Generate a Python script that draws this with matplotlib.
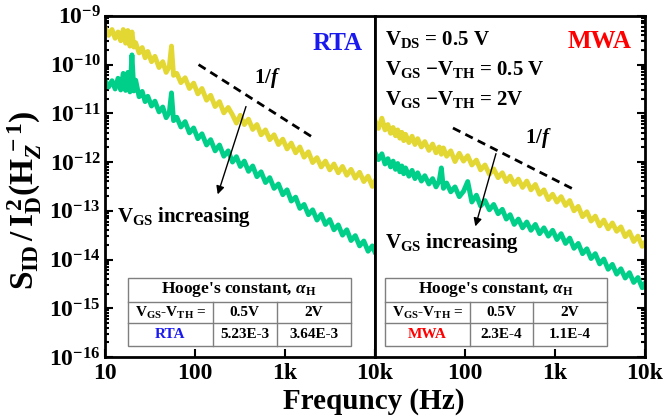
import numpy as np
import matplotlib
matplotlib.use('Agg')
import matplotlib.pyplot as plt
from matplotlib.ticker import FixedLocator, FuncFormatter, LogLocator, NullFormatter
from matplotlib.patches import Rectangle

plt.rcParams['font.family'] = ['Liberation Serif', 'DejaVu Serif']
plt.rcParams['font.weight'] = 'bold'
plt.rcParams['mathtext.fontset'] = 'custom'
plt.rcParams['mathtext.rm'] = 'Liberation Serif:bold'
plt.rcParams['mathtext.bf'] = 'Liberation Serif:bold'
plt.rcParams['mathtext.it'] = 'Liberation Serif:italic:bold'

# frequency grid (Hz), same for both panels
freq = [10, 11, 12, 13, 14, 15, 16, 17, 18, 19, 20, 21, 22, 24, 26, 28, 30, 33, 36, 40,
        44, 48, 52, 55, 58, 63, 70, 78, 87, 97, 108, 120, 135, 150, 168, 188, 210, 235,
        262, 290, 320, 355, 395, 440, 490, 545, 610, 680, 760, 850, 950, 1060, 1180,
        1320, 1470, 1640, 1830, 2040, 2280, 2540, 2830, 3160, 3520, 3930, 4380, 4890,
        5450, 6080, 6780, 7560, 8430, 9400, 10000]

# log10 of S_ID/I_D^2 (noisy traces)
rta_05 = [-9.23, -9.40, -9.28, -9.46, -9.33, -9.51, -9.28, -9.56, -9.30, -9.62, -9.33,
          -9.64, -9.55, -9.76, -9.65, -9.86, -9.73, -9.94, -9.83, -10.06, -9.94, -10.16,
          -10.04, -9.62, -10.22, -10.18, -10.37, -10.27, -10.49, -10.38, -10.60, -10.49,
          -10.73, -10.63, -10.86, -10.76, -10.99, -10.88, -11.03, -11.20, -11.04, -11.23,
          -11.12, -11.33, -11.23, -11.44, -11.34, -11.54, -11.44, -11.64, -11.53, -11.73,
          -11.61, -11.81, -11.69, -11.90, -11.79, -12.01, -11.91, -12.10, -11.98, -12.16,
          -12.04, -12.22, -12.09, -12.27, -12.15, -12.33, -12.21, -12.40, -12.29, -12.50,
          -12.40]
rta_2 = [-10.32, -10.46, -10.33, -10.50, -10.28, -10.52, -10.18, -10.53, -10.16, -10.56,
         -9.80, -10.54, -10.32, -10.66, -10.55, -10.76, -10.65, -10.85, -10.75, -10.97,
         -10.87, -11.09, -10.98, -10.58, -11.15, -11.08, -11.28, -11.17, -11.40, -11.30,
         -11.52, -11.42, -11.65, -11.54, -11.77, -11.65, -11.88, -11.77, -12.00, -11.89,
         -12.09, -11.98, -12.19, -12.08, -12.30, -12.20, -12.42, -12.32, -12.54, -12.45,
         -12.67, -12.57, -12.80, -12.72, -12.95, -12.87, -13.08, -12.98, -13.19, -13.07,
         -13.28, -13.18, -13.39, -13.29, -13.50, -13.39, -13.61, -13.51, -13.72, -13.62,
         -13.83, -13.72, -13.84]
mwa_05 = [-11.14, -11.31, -11.10, -11.34, -11.23, -11.41, -11.29, -11.46, -11.34, -11.51,
          -11.39, -11.56, -11.43, -11.60, -11.47, -11.64, -11.52, -11.69, -11.58, -11.76,
          -11.63, -11.81, -11.69, -11.84, -11.71, -11.88, -11.77, -11.99, -11.82, -11.98,
          -11.87, -12.06, -11.96, -12.16, -12.06, -12.25, -12.14, -12.32, -12.22, -12.40,
          -12.29, -12.46, -12.35, -12.52, -12.39, -12.57, -12.46, -12.66, -12.57, -12.77,
          -12.66, -12.82, -12.71, -12.89, -12.79, -13.00, -12.91, -13.12, -13.02, -13.21,
          -13.11, -13.31, -13.19, -13.37, -13.25, -13.42, -13.33, -13.53, -13.43, -13.63,
          -13.52, -13.73, -13.66]
mwa_2 = [-11.79, -11.95, -11.83, -12.04, -11.93, -12.10, -11.98, -12.15, -12.03, -12.20,
         -12.08, -12.24, -12.12, -12.29, -12.17, -12.34, -12.22, -12.39, -12.28, -12.45,
         -12.34, -12.51, -12.39, -12.12, -12.54, -12.43, -12.61, -12.51, -12.71, -12.60,
         -12.40, -12.82, -12.68, -12.90, -12.79, -12.98, -12.87, -13.06, -12.97, -13.17,
         -13.08, -13.28, -13.17, -13.35, -13.23, -13.40, -13.28, -13.47, -13.35, -13.52,
         -13.40, -13.59, -13.47, -13.67, -13.56, -13.77, -13.67, -13.88, -13.78, -13.98,
         -13.88, -14.09, -13.99, -14.20, -14.10, -14.30, -14.19, -14.38, -14.27, -14.47,
         -14.37, -14.58, -14.50]

# 1/f guide lines (start, end)
guide_rta_f = [110, 2000]
guide_rta_s = [1.0e-10, 3.3e-12]
guide_mwa_f = [74, 1600]
guide_mwa_s = [5.0e-12, 2.8e-13]

# Hooge table
hooge_cols = ['0.5V', '2V']
hooge_rta = ['5.23E-3', '3.64E-3']
hooge_mwa = ['2.3E-4', '1.1E-4']

x_ticks = [10, 100, 1000, 10000]
x_labels_left = ['10', '100', '1k', '10k']
x_labels_right = ['', '100', '1k', '10k']

yellow = '#e3d733'
green = '#00cf8a'


def style_axis(ax, xlabels, right_ticks):
    ax.set_xscale('log')
    ax.set_yscale('log')
    ax.set_xlim(10, 10000)
    ax.set_ylim(1e-16, 1e-9)
    ax.xaxis.set_major_locator(FixedLocator(x_ticks))
    ax.set_xticklabels(xlabels)
    ax.xaxis.set_minor_locator(LogLocator(base=10, subs=np.arange(2, 10)))
    ax.xaxis.set_minor_formatter(NullFormatter())
    ax.yaxis.set_major_locator(LogLocator(base=10, numticks=20))
    ax.yaxis.set_minor_locator(LogLocator(base=10, subs=np.arange(2, 10), numticks=20))
    ax.yaxis.set_minor_formatter(NullFormatter())
    ax.yaxis.set_major_formatter(FuncFormatter(lambda v, p: r'$\mathrm{10^{%d}}$' % round(np.log10(v))))
    ax.tick_params(which='both', direction='in', top=False, width=1.5)
    ax.tick_params(which='major', length=6)
    ax.tick_params(which='minor', length=3)
    ax.tick_params(axis='x', labelsize=17, pad=4)
    ax.tick_params(axis='y', labelsize=17, pad=3)
    if right_ticks:
        ax.yaxis.tick_right()
        ax.tick_params(axis='y', which='both', labelright=False)
    for s in ax.spines.values():
        s.set_linewidth(2)


def draw_table(ax, x0, x1, c1, c2, name, name_color, vals):
    y0, r1, r2, y1 = 0.032, 0.100, 0.161, 0.232
    ax.add_patch(Rectangle((x0, y0), x1 - x0, y1 - y0, transform=ax.transAxes,
                           facecolor='white', edgecolor='#7f7f7f', lw=1, zorder=5))
    for r in [r1, r2]:
        ax.plot([x0, x1], [r, r], transform=ax.transAxes, color='#7f7f7f', lw=1, zorder=6)
    for c in [c1, c2]:
        ax.plot([c, c], [y0, r2], transform=ax.transAxes, color='#7f7f7f', lw=1, zorder=6)
    kw = dict(transform=ax.transAxes, ha='center', va='center', zorder=7)
    ax.text((x0 + x1) / 2, (r2 + y1) / 2, r"Hooge's constant, $\alpha_{\mathrm{H}}$", fontsize=12.5, **kw)
    ax.text((x0 + c1) / 2, (r1 + r2) / 2, r'V$_{\mathrm{GS}}$-V$_{\mathrm{TH}}$ =', fontsize=11, **kw)
    ax.text((c1 + c2) / 2, (r1 + r2) / 2, hooge_cols[0], fontsize=11, **kw)
    ax.text((c2 + x1) / 2, (r1 + r2) / 2, hooge_cols[1], fontsize=11, **kw)
    ax.text((x0 + c1) / 2, (y0 + r1) / 2, name, fontsize=11, color=name_color, **kw)
    ax.text((c1 + c2) / 2, (y0 + r1) / 2, vals[0], fontsize=11, **kw)
    ax.text((c2 + x1) / 2, (y0 + r1) / 2, vals[1], fontsize=11, **kw)


fig = plt.figure(figsize=(6.68, 4.18), dpi=100)
ax1 = fig.add_axes([0.157, 0.146, 0.404, 0.816])
ax2 = fig.add_axes([0.561, 0.146, 0.404, 0.816])

# left panel: RTA
ax1.plot(freq, 10 ** np.array(rta_05), color=yellow, lw=3.5)
ax1.plot(freq, 10 ** np.array(rta_2), color=green, lw=3.5)
ax1.plot(guide_rta_f, guide_rta_s, 'k--', lw=2, dashes=(3, 2))
style_axis(ax1, x_labels_left, False)
ax1.text(0.955, 0.90, 'RTA', transform=ax1.transAxes, ha='right', va='baseline',
         fontsize=18, color='#1a1aee')
ax1.text(0.552, 0.804, r'1/$\mathit{f}$', transform=ax1.transAxes, fontsize=15, va='baseline')
ax1.annotate('', xy=(0.415, 0.469), xytext=(0.526, 0.742), xycoords='axes fraction',
             arrowprops=dict(arrowstyle='-|>', color='black', lw=1, mutation_scale=12))
ax1.text(0.044, 0.396, r'V$_{\mathrm{GS}}$ increasing', transform=ax1.transAxes,
         fontsize=15, va='baseline')
draw_table(ax1, 0.085, 0.911, 0.400, 0.637, 'RTA', '#1a1aee', hooge_rta)

# right panel: MWA
ax2.plot(freq, 10 ** np.array(mwa_05), color=yellow, lw=3.5)
ax2.plot(freq, 10 ** np.array(mwa_2), color=green, lw=3.5)
ax2.plot(guide_mwa_f, guide_mwa_s, 'k--', lw=2, dashes=(3, 2))
style_axis(ax2, x_labels_right, True)
ax2.text(0.952, 0.906, 'MWA', transform=ax2.transAxes, ha='right', va='baseline',
         fontsize=18, color='red')
ax2.text(0.037, 0.915, r'V$_{\mathrm{DS}}$ = 0.5 V', transform=ax2.transAxes, fontsize=15, va='baseline')
ax2.text(0.037, 0.827, r'V$_{\mathrm{GS}}$ $-$V$_{\mathrm{TH}}$ = 0.5 V', transform=ax2.transAxes,
         fontsize=15, va='baseline')
ax2.text(0.037, 0.739, r'V$_{\mathrm{GS}}$ $-$V$_{\mathrm{TH}}$ = 2V', transform=ax2.transAxes,
         fontsize=15, va='baseline')
ax2.text(0.556, 0.628, r'1/$\mathit{f}$', transform=ax2.transAxes, fontsize=15, va='baseline')
ax2.annotate('', xy=(0.370, 0.375), xytext=(0.452, 0.604), xycoords='axes fraction',
             arrowprops=dict(arrowstyle='-|>', color='black', lw=1, mutation_scale=12))
ax2.text(0.037, 0.32, r'V$_{\mathrm{GS}}$ increasing', transform=ax2.transAxes,
         fontsize=15, va='baseline')
draw_table(ax2, 0.037, 0.859, 0.352, 0.585, 'MWA', 'red', hooge_mwa)

fig.text(0.56, 0.022, 'Frequncy (Hz)', ha='center', va='baseline', fontsize=21)
fig.text(0.036, 0.52, r'$\mathrm{S_{ID}\,/\,I_D^{\,2}(H_{\mathit{Z}}^{\,-1})}$',
         rotation=90, ha='center', va='center', fontsize=24)

fig.savefig('out.png', dpi=100)
